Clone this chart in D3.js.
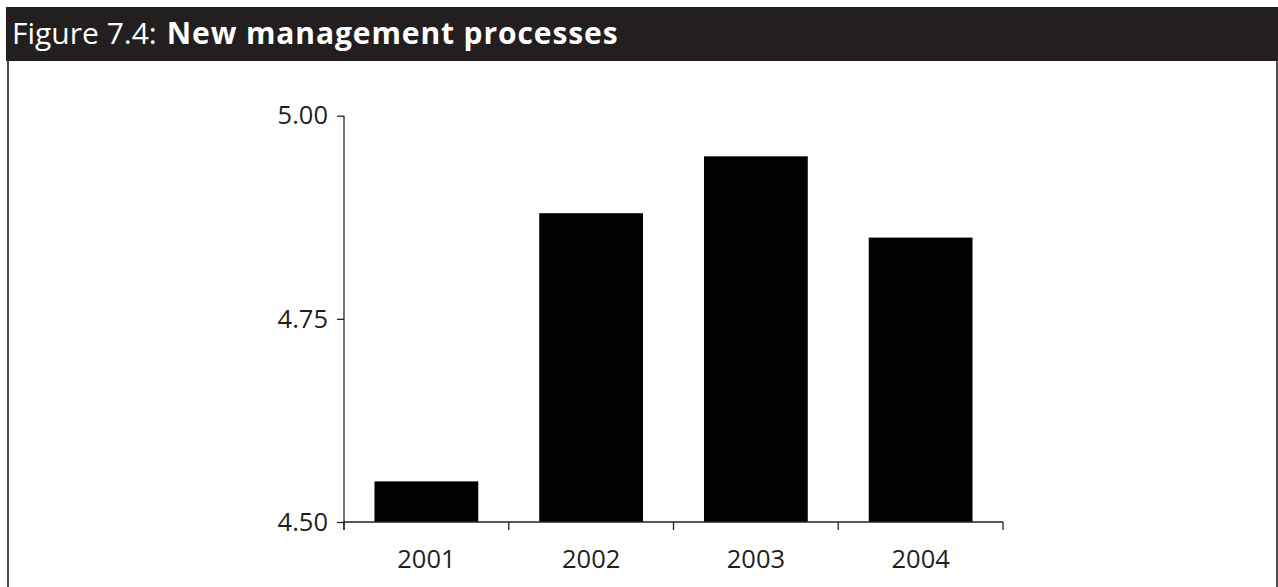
<!DOCTYPE html>
<html>
<head>
<meta charset="utf-8">
<script src="https://cdn.jsdelivr.net/npm/d3@7"></script>
<style>
  html, body { margin: 0; padding: 0; background: #fff; }
  svg { display: block; }
</style>
</head>
<body>
<svg id="chart" width="1278" height="587"></svg>
<script>
// Survey scores by year
const years = ["2001", "2002", "2003", "2004"];
const scores = [4.55, 4.88, 4.95, 4.85];
const yTicks = [4.50, 4.75, 5.00];
const titlePrefix = "Figure 7.4:";
const titleMain = "New management processes";

const W = 1278, H = 587;
const svg = d3.select("#chart");
const font = "'Open Sans', 'Noto Sans', sans-serif";
const ink = "#231f20";

// Frame: dark title band and side rules
const frame = { left: 7, right: 1277, top: 7, headerBottom: 61 };
svg.append("rect")
  .attr("x", frame.left - 1).attr("y", frame.top)
  .attr("width", W - frame.left + 1).attr("height", frame.headerBottom - frame.top)
  .attr("fill", ink);
svg.append("line")
  .attr("x1", frame.left + 1).attr("x2", frame.left + 1)
  .attr("y1", frame.headerBottom).attr("y2", H)
  .attr("stroke", "#4d4d4d").attr("stroke-width", 2);
svg.append("line")
  .attr("x1", frame.right).attr("x2", frame.right)
  .attr("y1", frame.headerBottom).attr("y2", H)
  .attr("stroke", "#4d4d4d").attr("stroke-width", 2);

const title = svg.append("text")
  .attr("x", 12).attr("y", 44)
  .attr("fill", "#fff")
  .attr("font-family", font)
  .attr("font-size", 30);
title.append("tspan").text(titlePrefix);
title.append("tspan").attr("dx", 10).attr("font-weight", "bold")
  .attr("letter-spacing", 0.9).text(titleMain);

// Plot area
const plot = { left: 344, right: 1003, top: 115.7, bottom: 522 };

const x = d3.scaleBand()
  .domain(years)
  .range([plot.left, plot.right])
  .paddingInner(0.37)
  .paddingOuter(0.185);

const y = d3.scaleLinear()
  .domain([4.5, 5.0])
  .range([plot.bottom, plot.top]);

// Bars
svg.append("g")
  .selectAll("rect")
  .data(years.map((yr, i) => ({ yr, v: scores[i] })))
  .join("rect")
  .attr("x", d => x(d.yr))
  .attr("y", d => y(d.v))
  .attr("width", x.bandwidth())
  .attr("height", d => y(4.5) - y(d.v))
  .attr("fill", "#000");

const axisColor = "#222";

// Y axis
const yAxis = svg.append("g")
  .attr("transform", `translate(${plot.left},0)`)
  .call(d3.axisLeft(y).tickValues(yTicks).tickFormat(d3.format(".2f")).tickSize(7).tickPadding(9));
yAxis.select(".domain").attr("d", `M0,${plot.top}V${plot.bottom + 8}`);

// X axis with ticks on the category boundaries
const boundaries = d3.range(years.length + 1).map(i => plot.left + i * (plot.right - plot.left) / years.length);
const xAxis = svg.append("g")
  .attr("transform", `translate(0,${plot.bottom})`)
  .call(d3.axisBottom(x).tickSize(0).tickPadding(28));
xAxis.select(".domain").attr("d", `M${plot.left},0H${plot.right}`);
xAxis.selectAll(".boundary")
  .data(boundaries)
  .join("line")
  .attr("class", "boundary")
  .attr("x1", d => d).attr("x2", d => d)
  .attr("y1", 0).attr("y2", 8);

[yAxis, xAxis].forEach(g => {
  g.selectAll(".domain, line").attr("stroke", axisColor).attr("stroke-width", 1.3);
  g.selectAll("text")
    .attr("font-family", font)
    .attr("font-size", 25.5)
    .attr("fill", ink);
});
</script>
</body>
</html>
